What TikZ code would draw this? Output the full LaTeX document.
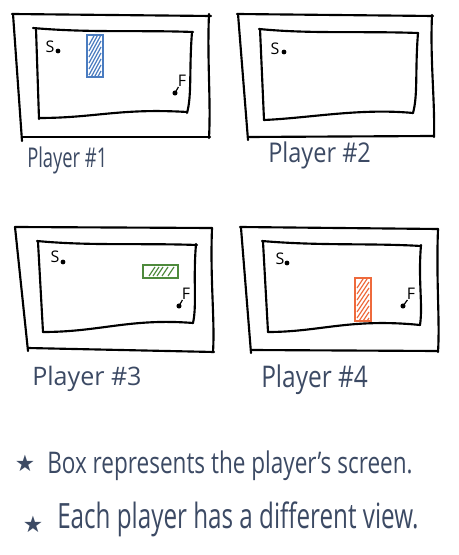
\documentclass[tikz,border=0pt]{standalone}
\usepackage{graphicx}
\usepackage{fontspec}
\setmainfont{Open Sans}
\newfontfamily\symfont{DejaVu Sans}
\definecolor{handink}{HTML}{3C4A64}
\definecolor{blueb}{HTML}{4A7CC0}
\definecolor{greenb}{HTML}{4E8A3C}
\definecolor{orangeb}{HTML}{EE6A3C}
\tikzset{
  ink/.style={line width=1.6pt, line cap=round, line join=round, black},
  hand/.style={text=handink, inner sep=0pt, anchor=base west},
  letter/.style={inner sep=0pt, font=\fontsize{12}{12}\selectfont},
  hatch/.style={line width=0.9pt},
  starmark/.style={text=handink, inner sep=0pt, font=\symfont\fontsize{17}{17}\selectfont},
}
\begin{document}
\begin{tikzpicture}[x=0.75pt,y=-0.75pt]
\useasboundingbox (0,0) rectangle (458,555);
\fill[white] (0,0) rectangle (458,555);

% ---------- Panel 1 ----------
\draw[ink] (12,14) -- (211,16);
\draw[ink] (209,14) .. controls (207,60) and (211,100) .. (209,138);
\draw[ink] (22,137) -- (210,137);
\draw[ink] (13,14) -- (22,141);
\draw[ink] (33,28) .. controls (90,33) and (140,30) .. (193,32);
\draw[ink] (192,32) .. controls (189,70) and (192,95) .. (187,113);
\draw[ink] (39,118) .. controls (95,118) and (120,108) .. (187,112);
\draw[ink] (36,29) -- (39,119);
\node[letter] (s1) at (50,47) {S};
\coordinate (sd1) at (58,51); \fill (sd1) circle (1.8pt);
\node[letter] (f1) at (182,81) {F};
\coordinate (fd1) at (175,93); \fill (fd1) circle (1.9pt);
\draw[line width=0.9pt] ([xshift=0.6pt]f1.south west) -- (fd1);
\begin{scope}
  \clip (88,36) rectangle (102,76);
  \foreach \y in {45,51,...,99} \draw[blueb,hatch] (89,\y) -- (101,\y-22);
\end{scope}
\draw[blueb,line width=1pt] (87,35) rectangle (103,77);

% ---------- Panel 2 ----------
\draw[ink] (237,14) -- (433,16);
\draw[ink] (432,15) .. controls (430,60) and (435,100) .. (434,137);
\draw[ink] (248,137) -- (433,136);
\draw[ink] (238,14) -- (248,140);
\draw[ink] (259,29) .. controls (310,34) and (360,31) .. (418,33);
\draw[ink] (418,33) .. controls (415,70) and (418,95) .. (413,113);
\draw[ink] (264,120) .. controls (310,118) and (360,108) .. (413,113);
\draw[ink] (260,29) -- (264,120);
\node[letter] (s2) at (275,49) {S};
\coordinate (sd2) at (284,52); \fill (sd2) circle (1.8pt);

% ---------- Panel 3 ----------
\draw[ink] (15,227) -- (212,228);
\draw[ink] (212,228) .. controls (210,280) and (215,320) .. (213,352);
\draw[ink] (28,348) -- (214,352);
\draw[ink] (15,227) -- (28,351);
\draw[ink] (37,241) .. controls (90,246) and (140,243) .. (197,245);
\draw[ink] (196,244) .. controls (193,280) and (197,305) .. (193,323);
\draw[ink] (43,332) .. controls (100,332) and (130,318) .. (193,323);
\draw[ink] (38,242) -- (43,332);
\node[letter] (s3) at (55,257) {S};
\coordinate (sd3) at (63,262); \fill (sd3) circle (1.8pt);
\node[letter] (f3) at (186,294) {F};
\coordinate (fd3) at (179,306); \fill (fd3) circle (1.9pt);
\draw[line width=0.9pt] ([xshift=0.6pt]f3.south west) -- (fd3);
\draw[greenb,line width=1pt] (143,265) rectangle (178,278);
\foreach \x in {149,153,157,162,168} \draw[greenb,hatch] (\x,276) -- (\x+6,267);

% ---------- Panel 4 ----------
\draw[ink] (240,227) -- (438,229);
\draw[ink] (438,229) .. controls (436,280) and (440,320) .. (438,352);
\draw[ink] (251,350) -- (438,351);
\draw[ink] (241,228) -- (251,353);
\draw[ink] (262,241) .. controls (320,246) and (370,243) .. (421,246);
\draw[ink] (421,245) .. controls (418,280) and (423,305) .. (420,325);
\draw[ink] (268,332) .. controls (320,332) and (350,318) .. (420,325);
\draw[ink] (263,242) -- (268,332);
\node[letter] (s4) at (280,259) {S};
\coordinate (sd4) at (287,263); \fill (sd4) circle (1.8pt);
\node[letter] (f4) at (411,294) {F};
\coordinate (fd4) at (403,306); \fill (fd4) circle (1.9pt);
\draw[line width=0.9pt] ([xshift=0.6pt]f4.south west) -- (fd4);
\begin{scope}
  \clip (356,279) rectangle (370,320);
  \foreach \y in {288,294,...,340} \draw[orangeb,hatch] (357,\y) -- (369,\y-18);
\end{scope}
\draw[orangeb,line width=1pt] (355,278) rectangle (371,321);

% ---------- Labels ----------
\node[hand] (p1) at (27,168) {\resizebox{60pt}{15.5pt}{Player \#1}};
\node[hand] (p2) at (268,163) {\resizebox{77pt}{15.5pt}{Player \#2}};
\node[hand] (p3) at (32,385) {\resizebox{82pt}{14.5pt}{Player \#3}};
\node[hand] (p4) at (261,387) {\resizebox{80pt}{17pt}{Player \#4}};

\node[starmark] (st1) at (25,463) {★};
\node[hand] (n1) at (47,473) {\resizebox{274pt}{17pt}{Box represents the player's screen.}};
\node[starmark] (st2) at (33,524) {★};
\node[hand] (n2) at (57,528) {\resizebox{271pt}{20pt}{Each player has a different view.}};
\end{tikzpicture}
\end{document}
